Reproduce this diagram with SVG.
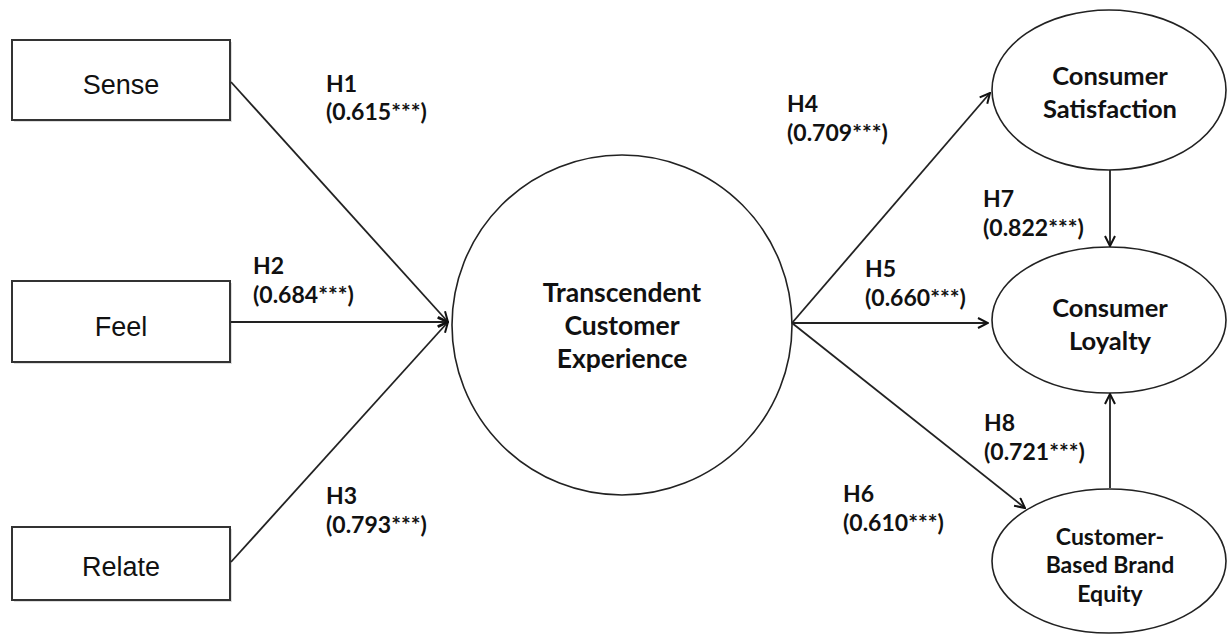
<svg xmlns="http://www.w3.org/2000/svg" width="1229" height="636" viewBox="0 0 1229 636">
<style>
.box{fill:#fff;stroke:#333;stroke-width:2}
.shadow{fill:#ddd;stroke:none}
.ell{fill:#fff;stroke:#222;stroke-width:1.6}
.lbl{font-family:"Liberation Sans",Arial,sans-serif;font-size:27px;fill:#111}
.node{font-family:Lato,"Liberation Sans",sans-serif;font-weight:bold;font-size:26.5px;fill:#111;text-anchor:middle}
.sat{font-size:25.5px}
.small{font-size:23px}
.hyp{font-family:Lato,"Liberation Sans",sans-serif;font-weight:bold;font-size:23px;fill:#111}
.edge{stroke:#222;stroke-width:1.8;fill:none;marker-end:url(#arr)}
</style>
<defs>
<marker id="arr" viewBox="0 0 12 12" refX="11" refY="6" markerWidth="12" markerHeight="12" markerUnits="userSpaceOnUse" orient="auto">
<path d="M1,1 L11,6 L1,11" fill="none" stroke="#111" stroke-width="2"/>
</marker>
</defs>
<g id="sense">
<rect class="shadow" x="14" y="42" width="218" height="80"/>
<rect class="box" x="12" y="40" width="218" height="80"/>
<text class="lbl" x="121" y="94" text-anchor="middle">Sense</text>
</g>
<g id="feel">
<rect class="shadow" x="14" y="283" width="218" height="81"/>
<rect class="box" x="12" y="281" width="218" height="81"/>
<text class="lbl" x="121" y="336" text-anchor="middle">Feel</text>
</g>
<g id="relate">
<rect class="shadow" x="14" y="529" width="218" height="73"/>
<rect class="box" x="12" y="527" width="218" height="73"/>
<text class="lbl" x="121" y="576" text-anchor="middle">Relate</text>
</g>
<g id="tce">
<circle class="ell" cx="622" cy="325" r="170"/>
<text class="node" x="622" y="302">Transcendent</text>
<text class="node" x="622" y="335">Customer</text>
<text class="node" x="622" y="368">Experience</text>
</g>
<g id="satisfaction">
<ellipse class="ell" cx="1109" cy="90" rx="117" ry="80"/>
<text class="node sat" x="1110" y="85">Consumer</text>
<text class="node sat" x="1110" y="118">Satisfaction</text>
</g>
<g id="loyalty">
<ellipse class="ell" cx="1109" cy="320" rx="117" ry="73"/>
<text class="node sat" x="1110" y="317">Consumer</text>
<text class="node sat" x="1110" y="350">Loyalty</text>
</g>
<g id="cbbe">
<ellipse class="ell" cx="1109" cy="561" rx="117" ry="72"/>
<text class="node small" x="1110" y="545">Customer-</text>
<text class="node small" x="1110" y="573">Based Brand</text>
<text class="node small" x="1110" y="602">Equity</text>
</g>
<g id="connectors">
<line class="edge" x1="231" y1="82" x2="448" y2="322"/>
<line class="edge" x1="231" y1="322" x2="448" y2="322"/>
<line class="edge" x1="231" y1="562" x2="448" y2="322"/>
<line class="edge" x1="792" y1="323" x2="990" y2="93"/>
<line class="edge" x1="792" y1="323" x2="988" y2="323"/>
<line class="edge" x1="792" y1="323" x2="1025" y2="508"/>
<line class="edge" x1="1110" y1="170" x2="1110" y2="246"/>
<line class="edge" x1="1110" y1="488" x2="1110" y2="394"/>
</g>
<g id="labels">
<text class="hyp" x="326" y="92">H1</text>
<text class="hyp" x="326" y="120">(0.615***)</text>
<text class="hyp" x="253" y="274">H2</text>
<text class="hyp" x="253" y="303">(0.684***)</text>
<text class="hyp" x="326" y="504">H3</text>
<text class="hyp" x="326" y="533">(0.793***)</text>
<text class="hyp" x="787" y="112">H4</text>
<text class="hyp" x="787" y="141">(0.709***)</text>
<text class="hyp" x="865" y="277">H5</text>
<text class="hyp" x="865" y="306">(0.660***)</text>
<text class="hyp" x="843" y="502">H6</text>
<text class="hyp" x="843" y="531">(0.610***)</text>
<text class="hyp" x="983" y="207">H7</text>
<text class="hyp" x="983" y="236">(0.822***)</text>
<text class="hyp" x="984" y="431">H8</text>
<text class="hyp" x="984" y="460">(0.721***)</text>
</g>
</svg>
